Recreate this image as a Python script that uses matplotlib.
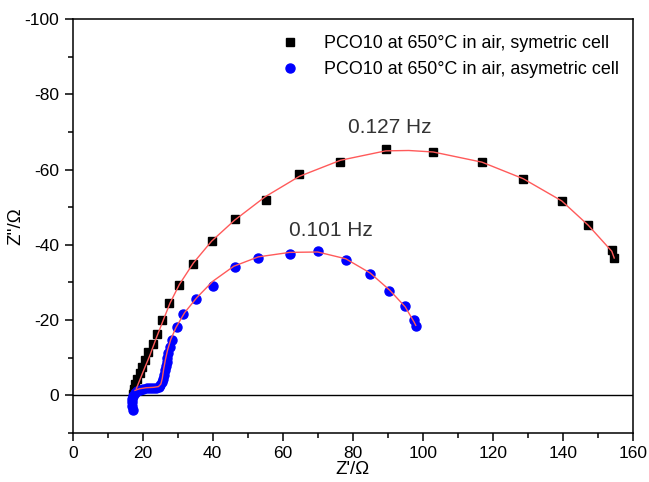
import matplotlib
matplotlib.use("Agg")
import matplotlib.pyplot as plt
from matplotlib.ticker import MultipleLocator

plt.rcParams['font.family'] = ['Liberation Sans', 'DejaVu Sans']
plt.rcParams['axes.unicode_minus'] = False

# celda simetrica (cuadros negros)
sym_re = [17.3, 17.4, 17.6, 17.9, 18.5, 19.2, 19.9, 20.7, 21.6, 22.9, 24.0, 25.6, 27.6, 30.4,
          34.4, 39.7, 46.3, 55.2, 64.7, 76.5, 89.4, 103.0, 116.9, 128.7, 139.7, 147.3,
          154.0, 154.7]
sym_im = [-0.2, -0.8, -1.6, -2.9, -4.2, -5.8, -7.4, -9.3, -11.5, -13.7, -16.4, -19.9, -24.6,
          -29.3, -34.8, -41.0, -47.0, -51.8, -58.9, -62.0, -65.4, -64.7, -62.0, -57.6, -51.7,
          -45.2, -38.6, -36.5]

# celda asimetrica (circulos azules)
asym_re = [17.3, 17.0, 16.9, 17.0, 17.3, 17.8, 18.5, 19.3, 20.2, 21.1, 22.0, 22.9, 23.8,
           24.6, 25.0, 25.4, 25.8, 26.1, 26.4, 26.6, 26.8, 27.0, 27.3, 27.8, 28.5, 29.7,
           31.6, 35.3, 40.2, 46.3, 52.9, 62.1, 70.2, 78.1, 84.9, 90.5, 95.0, 97.5, 98.1]
asym_im = [3.8, 2.9, 1.9, 1.0, 0.2, -0.5, -1.0, -1.3, -1.6, -1.8, -1.9, -2.0, -2.0,
           -2.1, -2.6, -3.4, -4.4, -5.5, -6.6, -7.7, -8.8, -10.0, -11.2, -12.8, -14.6, -18.2,
           -21.7, -25.6, -29.0, -34.1, -36.5, -37.7, -38.4, -36.1, -32.2, -27.7, -23.7, -19.9, -18.4]

# curvas de ajuste (rojo)
fit1_re = [18.2, 20.0, 22.0, 24.0, 25.8, 27.8, 30.5, 34.5, 39.7, 46.3, 55.0, 64.7, 76.5,
           89.4, 96.0, 103.0, 116.9, 128.7, 139.7, 147.3, 154.0, 154.7]
fit1_im = [-1.8, -6.0, -10.5, -15.5, -19.8, -24.5, -29.5, -35.2, -41.0, -46.6, -52.8, -58.2,
           -62.5, -65.0, -65.1, -64.7, -62.0, -57.6, -51.7, -45.2, -38.3, -36.5]
fit2_re = [17.8, 19.0, 21.0, 23.0, 24.5, 25.2, 25.6, 26.0, 26.5, 27.1, 28.0, 29.5, 32.0,
           35.5, 40.0, 46.0, 53.0, 62.0, 70.0, 78.0, 85.0, 90.5, 95.0, 97.5, 98.0]
fit2_im = [-1.3, -1.7, -2.0, -2.1, -2.3, -3.0, -4.5, -7.0, -9.5, -12.0, -14.8, -18.0, -22.0,
           -26.0, -30.3, -34.3, -36.8, -38.0, -38.1, -36.3, -32.5, -28.0, -23.5, -19.5, -18.6]

fig = plt.figure(figsize=(6.49, 4.82), dpi=100)
ax = fig.add_axes([0.112, 0.102, 0.863, 0.858])

ax.axhline(0, color='black', linewidth=1.0, zorder=1)
ax.plot(sym_re, sym_im, 's', color='black', markersize=6, label="PCO10 at 650°C in air, symetric cell", zorder=2)
ax.plot(asym_re, asym_im, 'o', color='#0000ff', markersize=6.5, label="PCO10 at 650°C in air, asymetric cell", zorder=2)
ax.plot(fit1_re, fit1_im, '-', color='#ff5a5a', linewidth=1.0, zorder=3)
ax.plot(fit2_re, fit2_im, '-', color='#ff5a5a', linewidth=1.0, zorder=3)

ax.text(90.6, -71.3, "0.127 Hz", fontsize=15, ha='center', va='center', color='#333333')
ax.text(73.8, -43.9, "0.101 Hz", fontsize=15, ha='center', va='center', color='#333333')

ax.set_xlim(0, 160)
ax.set_ylim(10, -100)
ax.xaxis.set_major_locator(MultipleLocator(20))
ax.xaxis.set_minor_locator(MultipleLocator(10))
ax.yaxis.set_major_locator(MultipleLocator(20))
ax.yaxis.set_minor_locator(MultipleLocator(10))
ax.tick_params(which='major', direction='out', length=6, width=1.1, labelsize=12.5)
ax.tick_params(which='minor', direction='out', length=3.5, width=1.1)
for s in ax.spines.values():
    s.set_linewidth(1.1)

ax.set_xlabel("Z'/Ω", fontsize=13.5, labelpad=0)
ax.set_ylabel("Z''/Ω", fontsize=13.5, labelpad=0)

ax.legend(loc='upper right', bbox_to_anchor=(0.975, 0.962), frameon=False, fontsize=12.9,
          borderpad=0, borderaxespad=0, handlelength=1.0, handletextpad=1.4,
          labelspacing=0.5, numpoints=1)

fig.savefig("out.png", dpi=100)
